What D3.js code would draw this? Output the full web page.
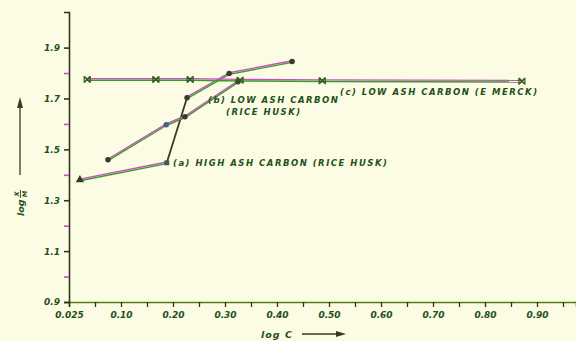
<!DOCTYPE html>
<html><head><meta charset="utf-8">
<script src="https://cdn.jsdelivr.net/npm/d3@7"></script>
<style>
html,body{margin:0;padding:0;background:#fcfce5;}
svg{display:block;}
text{font-family:"DejaVu Sans",sans-serif;font-weight:bold;font-style:italic;}
</style></head><body>
<svg id="c" width="576" height="341"></svg>
<script>
// ---- data ----
const xTickValues = [0, 0.1, 0.2, 0.3, 0.4, 0.5, 0.6, 0.7, 0.8, 0.9];
const xTickLabels = ["0.025","0.10","0.20","0.30","0.40","0.50","0.60","0.70","0.80","0.90"];
const yTickValues = [0.9, 1.1, 1.3, 1.5, 1.7, 1.9];
const yTickLabels = ["0.9","1.1","1.3","1.5","1.7","1.9"];

const seriesAX = [0.021, 0.188, 0.227, 0.308, 0.429];
const seriesAY = [1.380, 1.447, 1.703, 1.798, 1.845];
const seriesBX = [0.075, 0.187, 0.223, 0.325];
const seriesBY = [1.459, 1.597, 1.628, 1.766];
const seriesCX = [0.035, 0.167, 0.233, 0.329, 0.487, 0.871];
const seriesCY = [1.775, 1.775, 1.775, 1.772, 1.770, 1.768];

const labelA = "(a) HIGH ASH CARBON (RICE HUSK)";
const labelB1 = "(b) LOW ASH CARBON";
const labelB2 = "(RICE  HUSK)";
const labelC = "(c) LOW ASH CARBON (E MERCK)";

// ---- drawing ----
const svg = d3.select("#c");
const x = d3.scaleLinear().domain([0, 0.975]).range([69, 576]);
const y = d3.scaleLinear().domain([0.9, 2.04]).range([302, 12]);
const ink = "#2c3a12", txt = "#23501a", mag = "#c84fc0", grn = "#3a9a2a";

// axes
const xAxis = d3.axisBottom(x).tickValues(d3.range(0, 0.96, 0.05)).tickSize(5)
  .tickFormat(d => { const i = xTickValues.findIndex(v => Math.abs(v - d) < 1e-6); return i >= 0 ? xTickLabels[i] : ""; });
const gx = svg.append("g").attr("transform", `translate(0,${y(0.9)})`).call(xAxis);
gx.select(".domain").attr("stroke", "#5a7a1a").attr("stroke-width", 1.6);
gx.selectAll(".tick line").attr("stroke", ink).attr("stroke-width", 1.3);
gx.selectAll(".tick text").attr("fill", txt).attr("font-size", 9).attr("dy", "0.9em");

const yAxis = d3.axisLeft(y).tickValues(d3.range(0.9, 1.95, 0.1)).tickSize(5)
  .tickFormat(d => { const i = yTickValues.findIndex(v => Math.abs(v - d) < 1e-6); return i >= 0 ? yTickLabels[i] : ""; });
const gy = svg.append("g").attr("transform", `translate(${x(0)},0)`).call(yAxis);
gy.select(".domain").attr("stroke", ink).attr("stroke-width", 1.6);
gy.selectAll(".tick line").attr("stroke", (d, i) => i % 2 ? mag : ink).attr("stroke-width", 1.6);
gy.selectAll(".tick text").attr("fill", txt).attr("font-size", 9).attr("dx", "-1");

// line helper: magenta/green doubled stroke
function drawLine(xs, ys, darkSeg) {
  const pts = xs.map((v, i) => [x(v), y(ys[i])]);
  for (let i = 0; i < pts.length - 1; i++) {
    const seg = [pts[i], pts[i + 1]];
    if (darkSeg === i) {
      svg.append("path").attr("d", d3.line()(seg)).attr("stroke", "#3a3a22").attr("stroke-width", 1.8).attr("fill", "none");
    } else {
      svg.append("path").attr("d", d3.line()(seg)).attr("transform", "translate(0,-0.8)")
        .attr("stroke", mag).attr("stroke-width", 1.4).attr("fill", "none");
      svg.append("path").attr("d", d3.line()(seg)).attr("transform", "translate(0,0.8)")
        .attr("stroke", grn).attr("stroke-width", 1.4).attr("fill", "none");
    }
  }
  return pts;
}

const pa = drawLine(seriesAX, seriesAY, 1);
const pb = drawLine(seriesBX, seriesBY, -1);
const pc = drawLine(seriesCX, seriesCY, -1);

// markers
pa.forEach((p, i) => {
  const sym = i === 0 ? d3.symbolTriangle : (i === 1 ? d3.symbolSquare : d3.symbolCircle);
  svg.append("path").attr("d", d3.symbol().type(sym).size(i === 0 ? 30 : 24)())
    .attr("transform", `translate(${p[0]},${p[1]})`).attr("fill", i === 1 ? "#3a5a4a" : "#3c3a30");
});
pb.forEach((p, i) => {
  svg.append("path").attr("d", d3.symbol().type(d3.symbolCircle).size(24)())
    .attr("transform", `translate(${p[0]},${p[1]})`).attr("fill", i === 1 ? "#4a5a8a" : "#3c3a30");
});
pc.forEach(p => {
  const g = svg.append("g").attr("transform", `translate(${p[0]},${p[1]})`);
  g.append("path").attr("d", d3.symbol().type(d3.symbolX).size(22)()).attr("stroke", "#2e5a20").attr("stroke-width", 1.6);
  g.append("path").attr("d", "M-3,-3.5V3.5M3,-3.5V3.5").attr("stroke", "#2e5a20").attr("stroke-width", 1.2);
});

// series labels
function lbl(t, px, py) {
  svg.append("text").attr("x", px).attr("y", py).text(t)
    .attr("fill", txt).attr("font-size", 8.5).attr("letter-spacing", "1.5px");
}
lbl(labelA, 173, 166);
lbl(labelB1, 208, 103);
lbl(labelB2, 226, 115);
lbl(labelC, 340, 95);

// axis titles
svg.append("text").attr("x", 261).attr("y", 338).text("log C").attr("fill", txt).attr("font-size", 9.5).attr("letter-spacing", "1px");
svg.append("line").attr("x1", 302).attr("x2", 338).attr("y1", 334).attr("y2", 334).attr("stroke", "#3a3a22").attr("stroke-width", 1.3);
svg.append("path").attr("d", "M336,331L346,334L336,337Z").attr("fill", "#3a3a22");

// y title: "log X/M" as stacked fraction, rotated
const yg = svg.append("g").attr("transform", "translate(24,216) rotate(-90)");
yg.append("text").attr("x", 0).attr("y", 0).text("log").attr("fill", txt).attr("font-size", 9.5);
yg.append("text").attr("x", 22).attr("y", -5).text("X").attr("fill", txt).attr("font-size", 6.5).attr("text-anchor", "middle");
yg.append("line").attr("x1", 18).attr("x2", 26).attr("y1", -3.5).attr("y2", -3.5).attr("stroke", txt).attr("stroke-width", 0.9);
yg.append("text").attr("x", 22).attr("y", 2.5).text("M").attr("fill", txt).attr("font-size", 6.5).attr("text-anchor", "middle");
svg.append("line").attr("x1", 20).attr("x2", 20).attr("y1", 175).attr("y2", 106).attr("stroke", "#3a3a22").attr("stroke-width", 1.3);
svg.append("path").attr("d", "M17,108L20,97L23,108Z").attr("fill", "#3a3a22");
</script>
</body></html>
